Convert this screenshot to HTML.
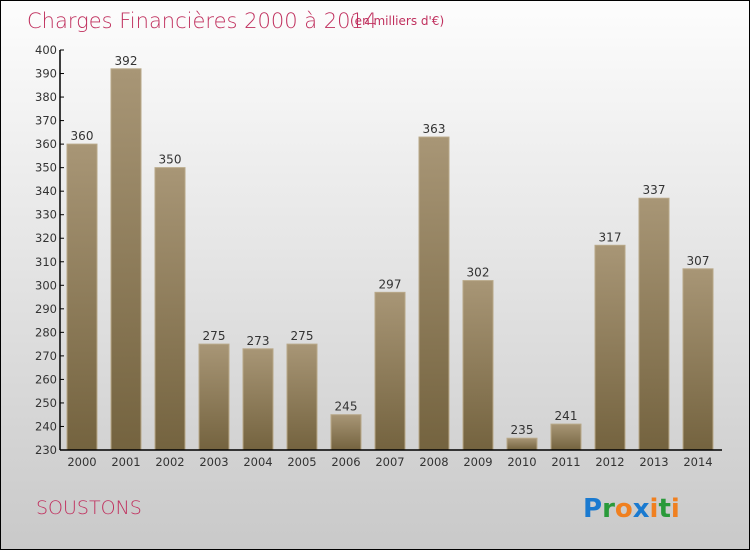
<!DOCTYPE html>
<html><head><meta charset="utf-8"><style>
body{margin:0;}
#wrap{width:750px;height:550px;position:relative;box-sizing:border-box;border:1px solid #000;background:linear-gradient(#fdfdfd,#c9c9c9);font-family:"DejaVu Sans","Liberation Sans",sans-serif;overflow:hidden}
</style></head><body>
<div id="wrap">
<svg id="chart" width="750" height="550" style="position:absolute;left:-1px;top:-1px">
<defs><linearGradient id="bg" x1="0" y1="0" x2="0" y2="1"><stop offset="0" stop-color="#a89676"/><stop offset="1" stop-color="#74633f"/></linearGradient></defs>
<text x="27" y="28" font-size="21" fill="#c0305e" font-family="DejaVu Sans,sans-serif" font-weight="200">Charges Financières 2000 à 2014</text>
<text x="350" y="25" font-size="12" fill="#c0305e">(en milliers d'€)</text>
<text x="36" y="514" font-size="19" fill="#c0305e" font-weight="200">SOUSTONS</text>
<g font-size="26" font-weight="bold" font-family="DejaVu Sans,sans-serif">
<text x="583" y="517"><tspan fill="#1a7ad0">P</tspan><tspan fill="#2a9a3a">r</tspan><tspan fill="#f08020">o</tspan><tspan fill="#1a7ad0">x</tspan><tspan fill="#f08020">i</tspan><tspan fill="#2a9a3a">t</tspan><tspan fill="#f08020">i</tspan></text></g>
</svg>
</div>
<script>
const years=["2000","2001","2002","2003","2004","2005","2006","2007","2008","2009","2010","2011","2012","2013","2014"];
const values=[360,392,350,275,273,275,245,297,363,302,235,241,317,337,307];
const yTicks=[230,240,250,260,270,280,290,300,310,320,330,340,350,360,370,380,390,400];
const svg=document.getElementById('chart');
const NS='http://www.w3.org/2000/svg';
const yMin=230,yMax=400,top0=50,bot=450,x0=60,x1=722;
const y=v=>bot-(v-yMin)/(yMax-yMin)*(bot-top0);
const step=44,first=82,bw=30;
const xc=i=>first+i*step;
function mk(t,a){const e=document.createElementNS(NS,t);for(const k in a)e.setAttribute(k,a[k]);svg.appendChild(e);return e;}
values.forEach((v,i)=>{
 const r=mk('rect',{x:xc(i)-bw/2,y:y(v),width:bw,height:bot-y(v),fill:'url(#bg)',stroke:'#b8a888','stroke-width':1});
 
 
 const t=mk('text',{x:xc(i),y:y(v)-4,'text-anchor':'middle','font-size':12,fill:'#333'});
 t.textContent=v;
 
 
 const xl=mk('text',{x:xc(i),y:bot+16,'text-anchor':'middle','font-size':11.5,fill:'#333'});
 xl.textContent=years[i];
 
 
});
yTicks.forEach(v=>{
 const l=mk('line',{x1:x0,x2:x0+4,y1:y(v),y2:y(v),stroke:'#000'});
 
 
 const t=mk('text',{x:x0-3,y:y(v)+4,'text-anchor':'end','font-size':11.5,fill:'#333'});
 t.textContent=v;
 
 
});
const ya=mk('line',{x1:x0,x2:x0,y1:top0,y2:bot,stroke:'#000','stroke-width':1.5});


const xa=mk('line',{x1:x0,x2:x1,y1:bot,y2:bot,stroke:'#000','stroke-width':1.5});


</script>
</body></html>
